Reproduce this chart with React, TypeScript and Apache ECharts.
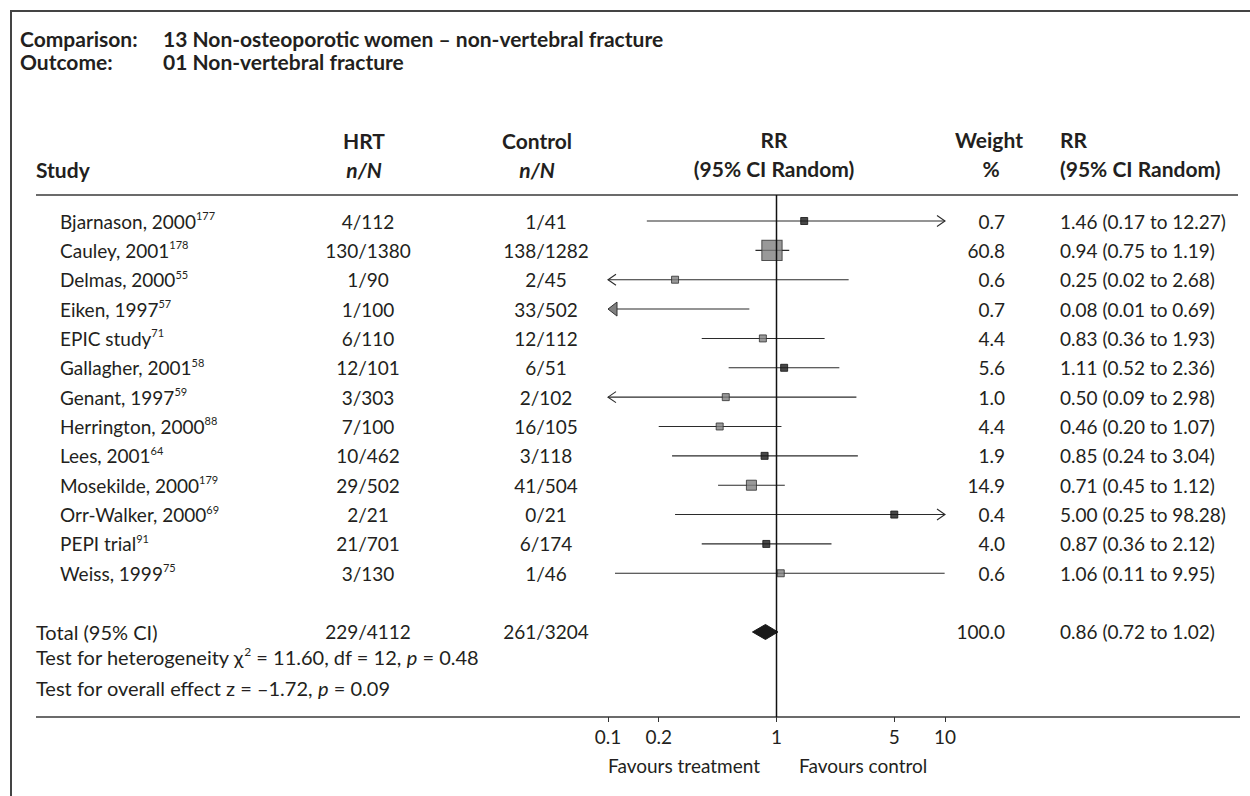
import React, { useEffect, useRef } from 'react';
import * as echarts from 'echarts';

const FONT = 'Lato, "Noto Sans", sans-serif';
const INK = '#231f20';
const FS = 19;
const FS_HEAD = 21;
const FS_NOTE = 20;

// ---------------- data ----------------
const studies = [
  'Bjarnason, 2000', 'Cauley, 2001', 'Delmas, 2000', 'Eiken, 1997', 'EPIC study',
  'Gallagher, 2001', 'Genant, 1997', 'Herrington, 2000', 'Lees, 2001', 'Mosekilde, 2000',
  'Orr-Walker, 2000', 'PEPI trial', 'Weiss, 1999',
];
const studyRefs = ['177', '178', '55', '57', '71', '58', '59', '88', '64', '179', '69', '91', '75'];
const hrtCounts = ['4/112', '130/1380', '1/90', '1/100', '6/110', '12/101', '3/303', '7/100', '10/462', '29/502', '2/21', '21/701', '3/130'];
const controlCounts = ['1/41', '138/1282', '2/45', '33/502', '12/112', '6/51', '2/102', '16/105', '3/118', '41/504', '0/21', '6/174', '1/46'];
const weightPct = [0.7, 60.8, 0.6, 0.7, 4.4, 5.6, 1.0, 4.4, 1.9, 14.9, 0.4, 4.0, 0.6];
const rrEstimate = [1.46, 0.94, 0.25, 0.08, 0.83, 1.11, 0.5, 0.46, 0.85, 0.71, 5.0, 0.87, 1.06];
const rrLower = [0.17, 0.75, 0.02, 0.01, 0.36, 0.52, 0.09, 0.2, 0.24, 0.45, 0.25, 0.36, 0.11];
const rrUpper = [12.27, 1.19, 2.68, 0.69, 1.93, 2.36, 2.98, 1.07, 3.04, 1.12, 98.28, 2.12, 9.95];
const markerTone = ['dark', 'grey', 'grey', 'grey', 'grey', 'dark', 'grey', 'grey', 'dark', 'grey', 'dark', 'dark', 'grey'];

const totalLabel = 'Total (95% CI)';
const totalHrt = '229/4112';
const totalControl = '261/3204';
const totalWeight = 100.0;
const totalEstimate = 0.86;
const totalLower = 0.72;
const totalUpper = 1.02;

const heterogeneityChi2 = '11.60';
const heterogeneityDf = '12';
const heterogeneityP = '0.48';
const overallZ = '–1.72';
const overallP = '0.09';

const axisTickValues = [0.1, 0.2, 1, 5, 10];

// ---------------- layout constants ----------------
const X_MIN = 0.1;
const X_MAX = 10;
const TOTAL_ROW = 14;
const Y_MIN = -0.8857;
const Y_MAX = 16.8957;

const COL_NAME = 60;
const COL_HRT = 368;
const COL_CTRL = 546;
const COL_WEIGHT = 1005;
const COL_RR = 1060;

const rrText = (e: number, l: number, u: number) => `${e.toFixed(2)} (${l.toFixed(2)} to ${u.toFixed(2)})`;

const plain = (x: number, y: number, text: string, align = 'left', extra: any = {}) => ({
  type: 'text',
  x,
  y,
  style: { text, fontFamily: FONT, fontSize: FS, fill: INK, align, verticalAlign: 'middle', ...extra },
});

const bold = (x: number, y: number, text: string, align = 'left', extra: any = {}) =>
  plain(x, y, text, align, { fontWeight: 'bold', fontSize: FS_HEAD, ...extra });

const richRow = {
  n: { fontFamily: FONT, fontSize: FS, fill: INK, lineHeight: 22 },
  s: { fontFamily: FONT, fontSize: 11, fill: INK, lineHeight: 10, verticalAlign: 'top' },
};

const richNote = {
  n: { fontFamily: FONT, fontSize: FS_NOTE, fill: INK, lineHeight: 23 },
  s: { fontFamily: FONT, fontSize: 12, fill: INK, lineHeight: 11, verticalAlign: 'top' },
  i: { fontFamily: FONT, fontSize: FS_NOTE, fill: INK, lineHeight: 23, fontStyle: 'italic' },
};

const hline = (x1: number, x2: number, y: number, w = 1.5, c = '#3a3a3a') => ({
  type: 'line',
  shape: { x1, y1: y, x2, y2: y },
  style: { stroke: c, lineWidth: w },
  silent: true,
});

const richText = (x: number, y: number, text: string, rich: any, fontSize: number) => ({
  type: 'text',
  x,
  y,
  style: { text, rich, align: 'left', verticalAlign: 'middle', fontFamily: FONT, fontSize, fill: INK },
});

export default function App() {
  const ref = useRef<HTMLDivElement>(null);

  useEffect(() => {
    const chart = echarts.init(ref.current as HTMLDivElement, null, { renderer: 'svg' });

    const tableSeries = {
      type: 'custom',
      name: 'table',
      coordinateSystem: 'cartesian2d',
      clip: false,
      silent: true,
      encode: { x: 0, y: 1 },
      data: studies.map((_, i) => [1, i]),
      renderItem: (params: any, api: any) => {
        const i = params.dataIndex;
        const y = api.coord([1, api.value(1)])[1];
        return {
          type: 'group',
          children: [
            richText(COL_NAME, y, `{n|${studies[i]}}{s|${studyRefs[i]}}`, richRow, FS),
            plain(COL_HRT, y, hrtCounts[i], 'center'),
            plain(COL_CTRL, y, controlCounts[i], 'center'),
            plain(COL_WEIGHT, y, weightPct[i].toFixed(1), 'right'),
            plain(COL_RR, y, rrText(rrEstimate[i], rrLower[i], rrUpper[i]), 'left'),
          ],
        };
      },
    };

    const totalSeries = {
      type: 'custom',
      name: 'total',
      coordinateSystem: 'cartesian2d',
      clip: false,
      silent: true,
      encode: { x: [0, 1, 3], y: 2 },
      data: [[totalLower, totalUpper, TOTAL_ROW, totalEstimate]],
      renderItem: (params: any, api: any) => {
        const lo = api.value(0);
        const hi = api.value(1);
        const row = api.value(2);
        const est = api.value(3);
        const [xl, y] = api.coord([lo, row]);
        const [xh] = api.coord([hi, row]);
        const [xe] = api.coord([est, row]);
        return {
          type: 'group',
          children: [
            {
              type: 'polygon',
              shape: { points: [[xl, y], [xe, y - 7.5], [xh, y], [xe, y + 7.5]] },
              style: { fill: '#1a1a1a', stroke: '#1a1a1a', lineWidth: 1 },
            },
            plain(36, y, totalLabel, 'left', { fontSize: FS_NOTE }),
            plain(COL_HRT, y, totalHrt, 'center'),
            plain(COL_CTRL, y, totalControl, 'center'),
            plain(COL_WEIGHT, y, totalWeight.toFixed(1), 'right'),
            plain(COL_RR, y, rrText(totalEstimate, totalLower, totalUpper), 'left'),
          ],
        };
      },
    };

    const ciSeries = {
      type: 'custom',
      name: 'ci',
      coordinateSystem: 'cartesian2d',
      clip: false,
      silent: true,
      encode: { x: [0, 1, 3], y: 2 },
      data: studies.map((_, i) => [rrLower[i], rrUpper[i], i, rrEstimate[i]]),
      renderItem: (params: any, api: any) => {
        const lo = api.value(0);
        const hi = api.value(1);
        const row = api.value(2);
        const est = api.value(3);
        const [xl, y] = api.coord([Math.max(lo, X_MIN), row]);
        const [xh] = api.coord([Math.min(hi, X_MAX), row]);
        const stroke = '#2b2b2b';
        const children: any[] = [
          { type: 'line', shape: { x1: xl, y1: y, x2: xh, y2: y }, style: { stroke, lineWidth: 1.1 } },
        ];
        if (est < X_MIN) {
          children.push({
            type: 'polygon',
            shape: { points: [[xl, y], [xl + 9, y - 7], [xl + 9, y + 7]] },
            style: { fill: '#808080', stroke: '#333', lineWidth: 1 },
          });
        } else if (lo < X_MIN) {
          children.push({
            type: 'polyline',
            shape: { points: [[xl + 8, y - 5.5], [xl, y], [xl + 8, y + 5.5]] },
            style: { stroke, lineWidth: 1.1, fill: null },
          });
        }
        if (hi > X_MAX) {
          children.push({
            type: 'polyline',
            shape: { points: [[xh - 8, y - 5.5], [xh, y], [xh - 8, y + 5.5]] },
            style: { stroke, lineWidth: 1.1, fill: null },
          });
        }
        return { type: 'group', children };
      },
    };

    const markerData = studies
      .map((_, i) => i)
      .filter((i) => rrEstimate[i] >= X_MIN && rrEstimate[i] <= X_MAX)
      .map((i) => ({
        value: [rrEstimate[i], i, weightPct[i]],
        itemStyle:
          markerTone[i] === 'dark'
            ? { color: '#1a1a1a', borderColor: '#111', borderWidth: 1 }
            : { color: '#808080', borderColor: '#2f2f2f', borderWidth: 1 },
      }));

    const markerSeries = {
      type: 'scatter',
      name: 'estimate',
      symbol: 'rect',
      symbolSize: (val: number[]) => Math.max(7, 2.6 * Math.sqrt(val[2])),
      data: markerData,
      silent: true,
      z: 3,
    };

    const refLineSeries = {
      type: 'custom',
      name: 'no effect',
      coordinateSystem: 'cartesian2d',
      clip: false,
      silent: true,
      z: 10,
      encode: { x: 0, y: 1 },
      data: [[1, Y_MIN, Y_MAX]],
      renderItem: (params: any, api: any) => {
        const [x, yTop] = api.coord([api.value(0), api.value(1)]);
        const [, yBot] = api.coord([api.value(0), api.value(2)]);
        return {
          type: 'line',
          shape: { x1: x, y1: yTop, x2: x, y2: yBot },
          style: { stroke: '#111', lineWidth: 1.5 },
        };
      },
    };

    const graphicElements: any[] = [
      // frame
      hline(10, 1250, 11, 2, '#444'),
      { type: 'line', shape: { x1: 11, y1: 10, x2: 11, y2: 796 }, style: { stroke: '#444', lineWidth: 2 }, silent: true },
      // title block
      bold(20, 38, 'Comparison:'),
      bold(163, 38, '13 Non-osteoporotic women – non-vertebral fracture'),
      bold(20, 61, 'Outcome:'),
      bold(163, 61, '01 Non-vertebral fracture'),
      // column headers
      bold(36, 169, 'Study'),
      bold(364, 140, 'HRT', 'center'),
      bold(364, 169, 'n/N', 'center', { fontStyle: 'italic' }),
      bold(537, 140, 'Control', 'center'),
      bold(537, 169, 'n/N', 'center', { fontStyle: 'italic' }),
      bold(774, 139, 'RR', 'center'),
      bold(774, 168, '(95% CI Random)', 'center'),
      bold(989, 139, 'Weight', 'center'),
      bold(991, 168, '%', 'center'),
      bold(COL_RR, 139, 'RR'),
      bold(COL_RR, 168, '(95% CI Random)'),
      // rules
      hline(36, 1238, 195),
      hline(36, 1240, 717),
      // tests
      richText(
        36,
        657,
        `{n|Test for heterogeneity χ}{s|2}{n| = ${heterogeneityChi2}, df = ${heterogeneityDf}, }{i|p}{n| = ${heterogeneityP}}`,
        richNote,
        FS_NOTE,
      ),
      richText(36, 688, `{n|Test for overall effect z = ${overallZ}, }{i|p}{n| = ${overallP}}`, richNote, FS_NOTE),
      // favours
      plain(760, 765, 'Favours treatment', 'right'),
      plain(799, 765, 'Favours control', 'left'),
    ];

    chart.setOption({
      animation: false,
      backgroundColor: '#ffffff',
      textStyle: { fontFamily: FONT },
      grid: { left: 608, right: 305, top: 195, bottom: 79, containLabel: false, outerBoundsMode: 'none' },
      xAxis: {
        type: 'log',
        logBase: 10,
        min: X_MIN,
        max: X_MAX,
        position: 'bottom',
        axisLine: { show: false, onZero: false },
        axisTick: { show: true, length: 5, customValues: axisTickValues, lineStyle: { color: '#333', width: 1 } },
        axisLabel: {
          show: true,
          customValues: axisTickValues,
          formatter: (v: number) => String(Number(v.toPrecision(3))),
          fontFamily: FONT,
          fontSize: FS,
          color: INK,
          margin: 10,
        },
        splitLine: { show: false },
        minorTick: { show: false },
        minorSplitLine: { show: false },
      },
      yAxis: {
        type: 'value',
        inverse: true,
        min: Y_MIN,
        max: Y_MAX,
        show: false,
        axisLine: { onZero: false },
        splitLine: { show: false },
      },
      graphic: { elements: graphicElements },
      series: [ciSeries, markerSeries, totalSeries, tableSeries, refLineSeries],
    });

    return () => chart.dispose();
  }, []);

  return (
    <div
      ref={ref}
      style={{ position: 'fixed', left: 0, top: 0, width: 1250, height: 796, background: '#fff' }}
    />
  );
}
